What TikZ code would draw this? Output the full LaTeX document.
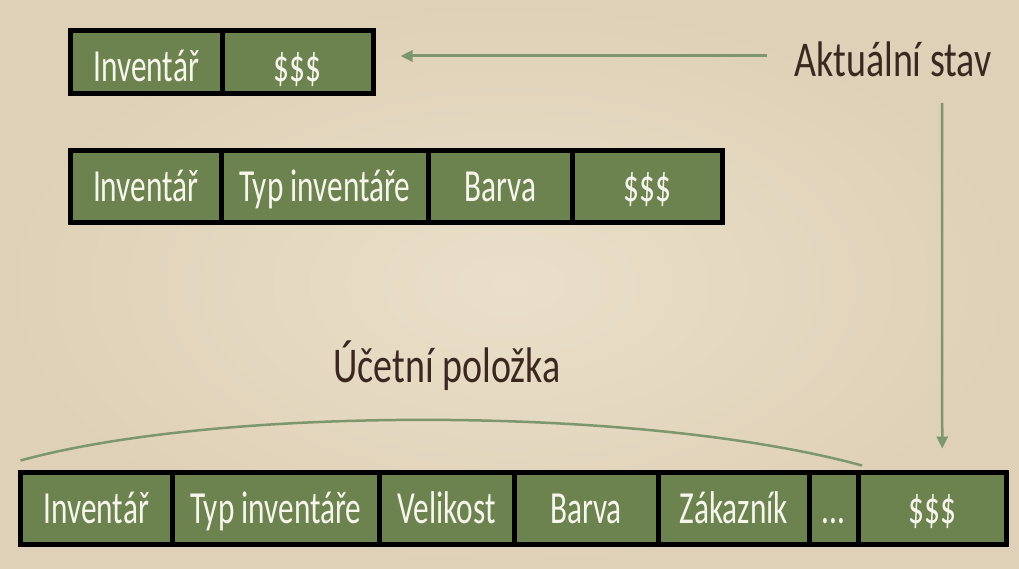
\documentclass[tikz,border=0pt]{standalone}
\usepackage{fontspec}
\newfontfamily\handfont{Carlito}[FakeStretch=0.68]
\newfontfamily\titlefont{Carlito}[FakeStretch=0.76]
\usepackage{xcolor}
\usetikzlibrary{positioning, arrows.meta}

\definecolor{paper}{RGB}{234,223,201}
\definecolor{paperdark}{RGB}{223,209,183}
\definecolor{cellgreen}{RGB}{108,130,79}
\definecolor{linegreen}{RGB}{124,151,110}
\definecolor{inkbrown}{RGB}{58,40,32}
\definecolor{chalk}{RGB}{246,246,236}

\tikzset{
	cell/.style={draw=black, line width=5pt, fill=cellgreen, text=chalk,
		font=\handfont\fontsize{46}{50}\selectfont, inner sep=0pt, outer sep=0pt,
		minimum height=72pt, text height=30pt, text depth=0pt},
	heading/.style={text=inkbrown, font=\titlefont\fontsize{50}{54}\selectfont, inner sep=0pt},
	link/.style={draw=linegreen, line width=3pt, -{Triangle[length=12pt,width=11pt]}},
	brace/.style={draw=linegreen, line width=2.5pt},
}

\begin{document}
\begin{tikzpicture}[x=1pt, y=-1pt]
	% Paper background
	\useasboundingbox (0,0) rectangle (1019,569);
	\shade[inner color=paper, outer color=paperdark] (0,0) rectangle (1019,569);
	
	% First row: current state
	\node[cell, minimum height=63pt, text height=39.4pt, minimum width=151.5pt, anchor=west] (r1a) at (70.5,62) {Inventář};
	\node[cell, minimum height=63pt, text height=39.4pt, minimum width=151.5pt, right=0pt of r1a] (r1b) {\$\$\$};
	
	% Second row
	\node[cell, minimum width=150.5pt, anchor=west] (r2a) at (70.5,186.5) {Inventář};
	\node[cell, minimum width=207.5pt, right=0pt of r2a] (r2b) {Typ inventáře};
	\node[cell, minimum width=143.5pt, right=0pt of r2b] (r2c) {Barva};
	\node[cell, minimum width=150.5pt, right=0pt of r2c] (r2d) {\$\$\$};
	
	% Third row: accounting item
	\node[cell, minimum width=151.5pt, anchor=west] (r3a) at (20.5,508.5) {Inventář};
	\node[cell, minimum width=207.5pt, right=0pt of r3a] (r3b) {Typ inventáře};
	\node[cell, minimum width=134.5pt, right=0pt of r3b] (r3c) {Velikost};
	\node[cell, minimum width=144pt, right=0pt of r3c] (r3d) {Barva};
	\node[cell, minimum width=151.5pt, right=0pt of r3d] (r3e) {Zákazník};
	\node[cell, minimum width=48.5pt, right=0pt of r3e] (r3f) {...};
	\node[cell, minimum width=148.5pt, right=0pt of r3f] (r3g) {\$\$\$};
	
	% Labels
	\node[heading, anchor=base] (stav) at (893,77) {Aktuální stav};
	\node[heading, anchor=base] (polozka) at (447,382) {Účetní položka};
	
	% Arrows from the current state
	\draw[link] ([xshift=-27pt,yshift=21pt]stav.base west) -- ([xshift=27pt,yshift=6pt]r1b.east);
	\draw[link, line width=2.5pt] ([xshift=49pt,yshift=-26pt]stav.base) -- ([xshift=10pt,yshift=24pt]r3g.north);
	
	% Arc over the accounting item
	\draw[brace] ([yshift=12pt]r3a.north west) .. controls +(200,-55) and +(-220,-60) .. ([xshift=4pt,yshift=7pt]r3f.north east);
	
\end{tikzpicture}
\end{document}
